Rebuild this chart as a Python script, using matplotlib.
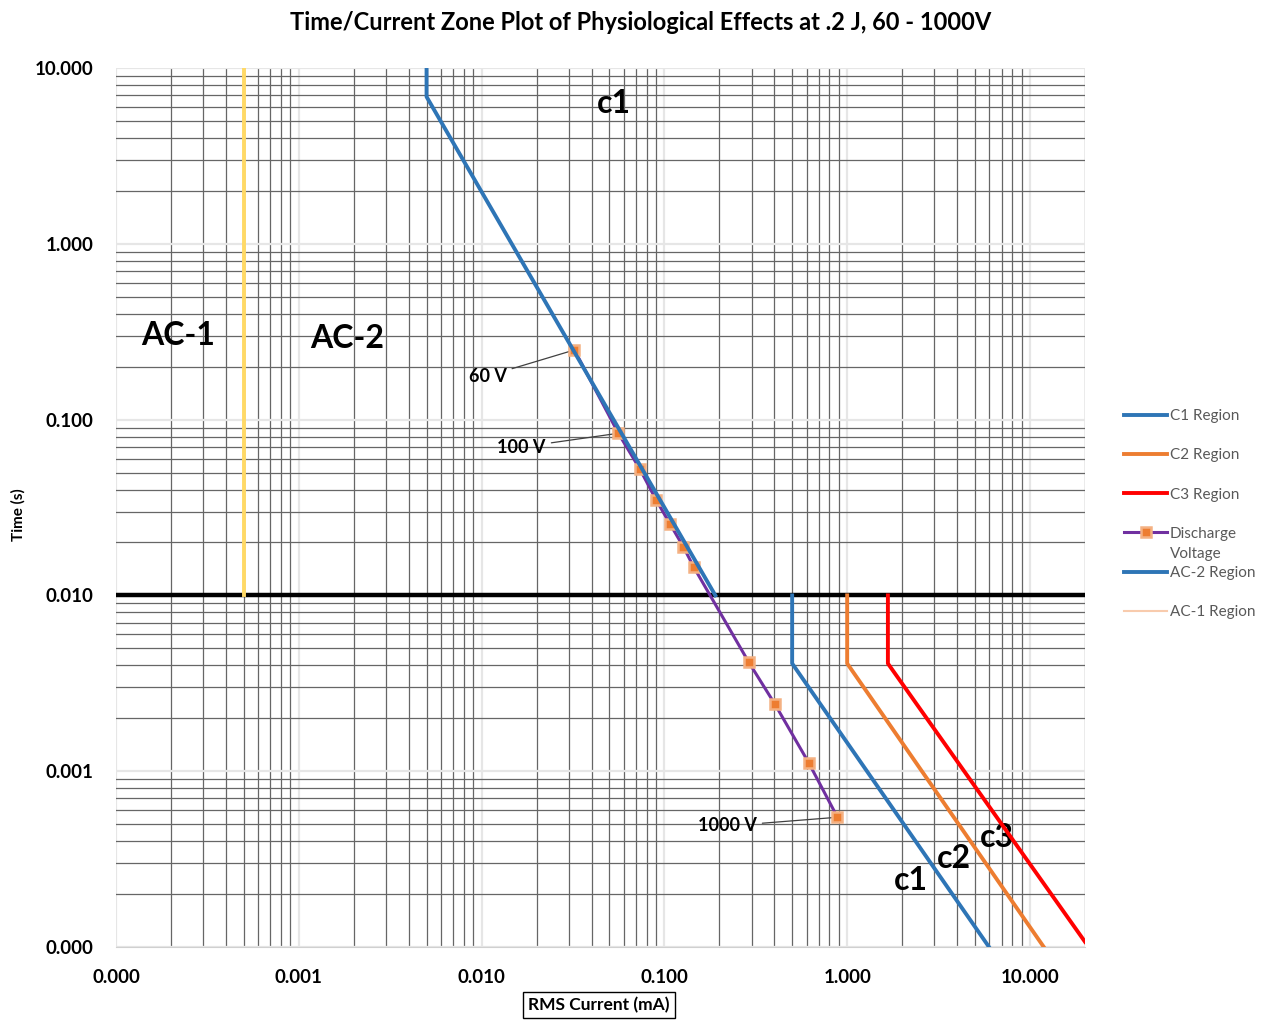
import numpy as np
import matplotlib.pyplot as plt
from matplotlib.lines import Line2D
from matplotlib.ticker import LogLocator, FuncFormatter

plt.rcParams['font.family'] = ['Lato', 'DejaVu Sans']

# boundary curves (x: RMS current in mA, y: time in s)
ac1_x = [0.0005, 0.0005]
ac1_y = [0.01, 10]
ac2_x = [0.005, 0.005, 0.19]
ac2_y = [10, 6.86, 0.01]
c1_x = [0.5, 0.5, 5.97]
c1_y = [0.01, 0.0041, 0.0001]
c2_x = [1.0, 1.0, 11.9]
c2_y = [0.01, 0.0041, 0.0001]
c3_x = [1.67, 1.67, 20]
c3_y = [0.01, 0.0041, 0.000107]

# discharge points 60 V ... 1000 V
dis_x = [0.0322, 0.0560, 0.0736, 0.0901, 0.1074, 0.127, 0.145, 0.289, 0.403, 0.615, 0.885]
dis_y = [0.249, 0.0836, 0.0521, 0.0349, 0.0255, 0.0189, 0.01445, 0.00418, 0.0024, 0.00112, 0.000547]

limit_t = 0.01
x_range = [0.0001, 20]
y_range = [0.0001, 10]

BLUE = '#2E75B6'
ORANGE = '#ED7D31'
RED = '#FF0000'
PURPLE = '#7030A0'
YELLOW = '#FFD966'

fig = plt.figure(figsize=(12.69, 10.21), dpi=100)
ax = fig.add_axes([116/1269, 1-947/1021, (1085-116)/1269, (947-68)/1021])
ax.set_xscale('log')
ax.set_yscale('log')
ax.set_xlim(x_range)
ax.set_ylim(y_range)

ax.xaxis.set_major_locator(LogLocator(base=10, numticks=20))
ax.yaxis.set_major_locator(LogLocator(base=10, numticks=20))
ax.xaxis.set_minor_locator(LogLocator(base=10, subs=np.arange(2, 10), numticks=20))
ax.yaxis.set_minor_locator(LogLocator(base=10, subs=np.arange(2, 10), numticks=20))
fmt = FuncFormatter(lambda v, p: '{:.3f}'.format(v))
ax.xaxis.set_major_formatter(fmt)
ax.yaxis.set_major_formatter(fmt)
ax.xaxis.set_minor_formatter(FuncFormatter(lambda v, p: ''))
ax.yaxis.set_minor_formatter(FuncFormatter(lambda v, p: ''))

ax.grid(which='major', color='#E6E6E6', linewidth=1.6)
ax.grid(which='minor', color='#666666', linewidth=0.9)
ax.set_axisbelow(True)
ax.tick_params(which='both', length=0)
ax.tick_params(axis='x', pad=16)
ax.tick_params(axis='y', pad=16)
for lab in ax.get_xticklabels() + ax.get_yticklabels():
    lab.set_fontweight('bold')
    lab.set_fontsize(13.5)
for s in ['top', 'right', 'left']:
    ax.spines[s].set_visible(False)
ax.spines['bottom'].set_color('#D0D0D0')

ax.plot(x_range, [limit_t, limit_t], color='black', linewidth=3.2, zorder=3)
ax.plot(ac1_x, ac1_y, color=YELLOW, linewidth=2.8, zorder=3)
l_ac2, = ax.plot(ac2_x, ac2_y, color=BLUE, linewidth=2.8, zorder=5)
l_c1, = ax.plot(c1_x, c1_y, color=BLUE, linewidth=2.8, zorder=4)
l_c2, = ax.plot(c2_x, c2_y, color=ORANGE, linewidth=2.8, zorder=4)
l_c3, = ax.plot(c3_x, c3_y, color=RED, linewidth=2.8, zorder=4)
l_dis, = ax.plot(dis_x, dis_y, color=PURPLE, linewidth=2.2, marker='s', markersize=7,
                 markerfacecolor=ORANGE, markeredgecolor='#F4B183', markeredgewidth=1.8, zorder=4)

big = dict(fontsize=23, fontweight='bold', ha='center', va='center')
ax.text(0.0526, 6.3, 'c1', **big)
ax.text(0.000218, 0.30, 'AC-1', **big)
ax.text(0.00183, 0.29, 'AC-2', **big)
ax.text(2.24, 0.00024, 'c1', **big)
ax.text(3.85, 0.00032, 'c2', **big)
ax.text(6.61, 0.00042, 'c3', **big)

lead = dict(arrowstyle='-', color='#404040', linewidth=0.9, shrinkA=2, shrinkB=3)
txt = dict(fontsize=13, fontweight='bold', ha='center', va='center')
ax.annotate('60 V', xy=(dis_x[0], dis_y[0]), xytext=(0.0108, 0.177), arrowprops=lead, **txt)
ax.annotate('100 V', xy=(dis_x[1], dis_y[1]), xytext=(0.01656, 0.0698), arrowprops=lead, **txt)
ax.annotate('1000 V', xy=(dis_x[-1], dis_y[-1]), xytext=(0.221, 0.000488), arrowprops=lead, **txt)

fig.text(641/1269, 1-22/1021, 'Time/Current Zone Plot of Physiological Effects at .2 J, 60 - 1000V',
         fontsize=17, fontweight='bold', ha='center', va='center')
fig.text(18/1269, 1-515/1021, 'Time (s)', fontsize=11, fontweight='bold', rotation=90,
         ha='center', va='center')
fig.text(599/1269, 1-1005/1021, 'RMS Current (mA)', fontsize=12.5, fontweight='bold',
         ha='center', va='center',
         bbox=dict(boxstyle='square,pad=0.3', facecolor='white', edgecolor='black', linewidth=1))

ac1_handle = Line2D([], [], color='#F8CBAD', linewidth=1.5)
handles = [l_c1, l_c2, l_c3, l_dis, l_ac2, ac1_handle]
labels = ['C1 Region', 'C2 Region', 'C3 Region', 'Discharge', 'AC-2 Region', 'AC-1 Region']
leg = fig.legend(handles, labels, loc='upper left', bbox_to_anchor=(1118/1269, 1-403/1021),
                 frameon=False, fontsize=11, handlelength=2.8, handletextpad=0.2,
                 labelspacing=1.65, borderaxespad=0)
for t in leg.get_texts():
    t.set_color('#595959')

# second line of the "Discharge Voltage" legend label
fig.canvas.draw()
bb = leg.get_texts()[3].get_window_extent()
fig.text(bb.x0 / fig.bbox.width, (bb.y0 - 20) / fig.bbox.height, 'Voltage', fontsize=11,
         color='#595959', ha='left', va='bottom')

fig.savefig('out.png', dpi=100)
